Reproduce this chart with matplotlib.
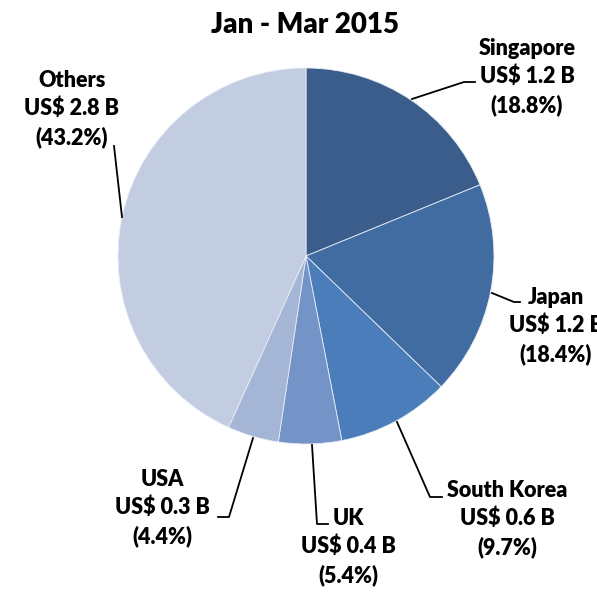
import matplotlib
matplotlib.use("Agg")
import matplotlib.pyplot as plt

plt.rcParams['font.family'] = ['Lato', 'DejaVu Sans']

countries = ['Singapore', 'Japan', 'South Korea', 'UK', 'USA', 'Others']
values_b = [1.2, 1.2, 0.6, 0.4, 0.3, 2.8]
shares = [18.8, 18.4, 9.7, 5.4, 4.4, 43.2]
colors = ['#3A5D8B', '#416CA1', '#4A7DBA', '#7493C7', '#A4B5D5', '#C2CDE2']

# label block centres and leader polylines, in pixels (y measured from top)
label_pos = [(527, 77), (556, 326), (507, 519), (348, 547), (162, 508), (72, 109)]
leaders = [
    [(412, 99), (464, 82), (475, 82)],
    [(492, 293), (514, 302), (520, 302)],
    [(397, 422), (430, 497), (442, 497)],
    [(312, 445), (317, 524), (328, 524)],
    [(253, 438), (229, 517), (218, 517)],
    [(122, 217), (114, 146)],
]

W = H = 597
fig = plt.figure(figsize=(W / 100, H / 100), dpi=100)
ax = fig.add_axes([0, 0, 1, 1])
ax.set_xlim(0, W)
ax.set_ylim(0, H)
ax.axis('off')

ax.pie(shares, colors=colors, startangle=90, counterclock=False,
       center=(306, H - 256), radius=188,
       wedgeprops=dict(edgecolor='#E6ECF5', linewidth=0.6))
ax.set_xlim(0, W)
ax.set_ylim(0, H)
ax.set_aspect('equal')

for name, v, s, (x, y), pts in zip(countries, values_b, shares, label_pos, leaders):
    ax.text(x, H - y, f'{name}\nUS$ {v} B\n({s}%)', ha='center', va='center',
            fontsize=15.5, fontweight='heavy', linespacing=1.38, color='black')
    ax.plot([p[0] for p in pts], [H - p[1] for p in pts], color='black', lw=1.3)

ax.text(305, H - 25, 'Jan - Mar 2015', ha='center', va='center',
        fontsize=20, fontweight='heavy')

fig.savefig('out.png', dpi=100)
